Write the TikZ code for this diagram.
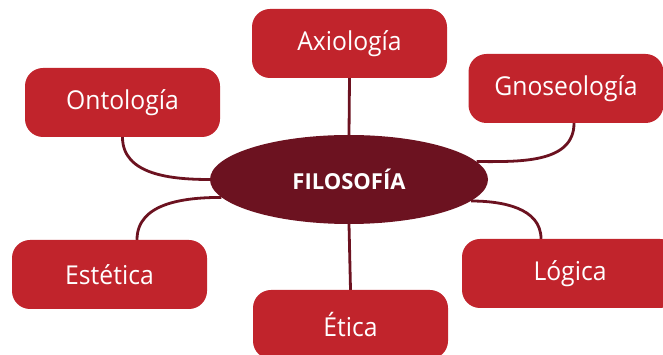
\documentclass[tikz,border=0pt]{standalone}
\usepackage{fontspec}
\setmainfont{Open Sans}
\newfontfamily\boxfont{Open Sans}[FakeStretch=0.95]
\usetikzlibrary{shapes.geometric,backgrounds}
\definecolor{boxred}{RGB}{193,36,44}
\definecolor{darkred}{RGB}{108,18,32}
\begin{document}
\begin{tikzpicture}[x=1pt,y=1pt,
  branch/.style={rectangle,rounded corners=18pt,fill=boxred,text=white,
    minimum width=195pt,minimum height=69pt,inner sep=0pt,
    font=\boxfont\fontsize{26}{30}\selectfont},
  center/.style={ellipse,fill=darkred,text=white,minimum width=278pt,
    minimum height=89pt,inner sep=0pt,
    font=\fontsize{22}{26}\selectfont\bfseries},
  link/.style={draw=darkred,line width=2.8pt}]
\useasboundingbox (0,0) rectangle (663,355);
\node[center] (filo) at (349,175.5) {FILOSOFÍA};
\node[branch] (axio) at (349.5,311.5) {Axiología};
\node[branch] (onto) at (122.5,252.5) {Ontología};
\node[branch] (gno) at (566,266.5) {Gnoseología};
\node[branch] (est) at (109.5,80.5) {Estética};
\node[branch,minimum width=216pt] (log) at (570,81.5) {Lógica};
\node[branch] (etica) at (350.5,30.5) {Ética};
\begin{scope}[on background layer]
\draw[link] (axio.south) -- (filo.north);
\draw[link] (filo.south) -- (etica.north);
\draw[link] (onto.south) to[out=-90,in=180] (filo.west);
\draw[link] ([xshift=8pt]gno.south) to[out=-90,in=0] (filo.8);
\draw[link] ([xshift=27.5pt]est.north) to[out=90,in=180] (filo.188);
\draw[link] ([xshift=-29pt]log.north) to[out=90,in=0] (filo.350);
\end{scope}
\end{tikzpicture}
\end{document}
